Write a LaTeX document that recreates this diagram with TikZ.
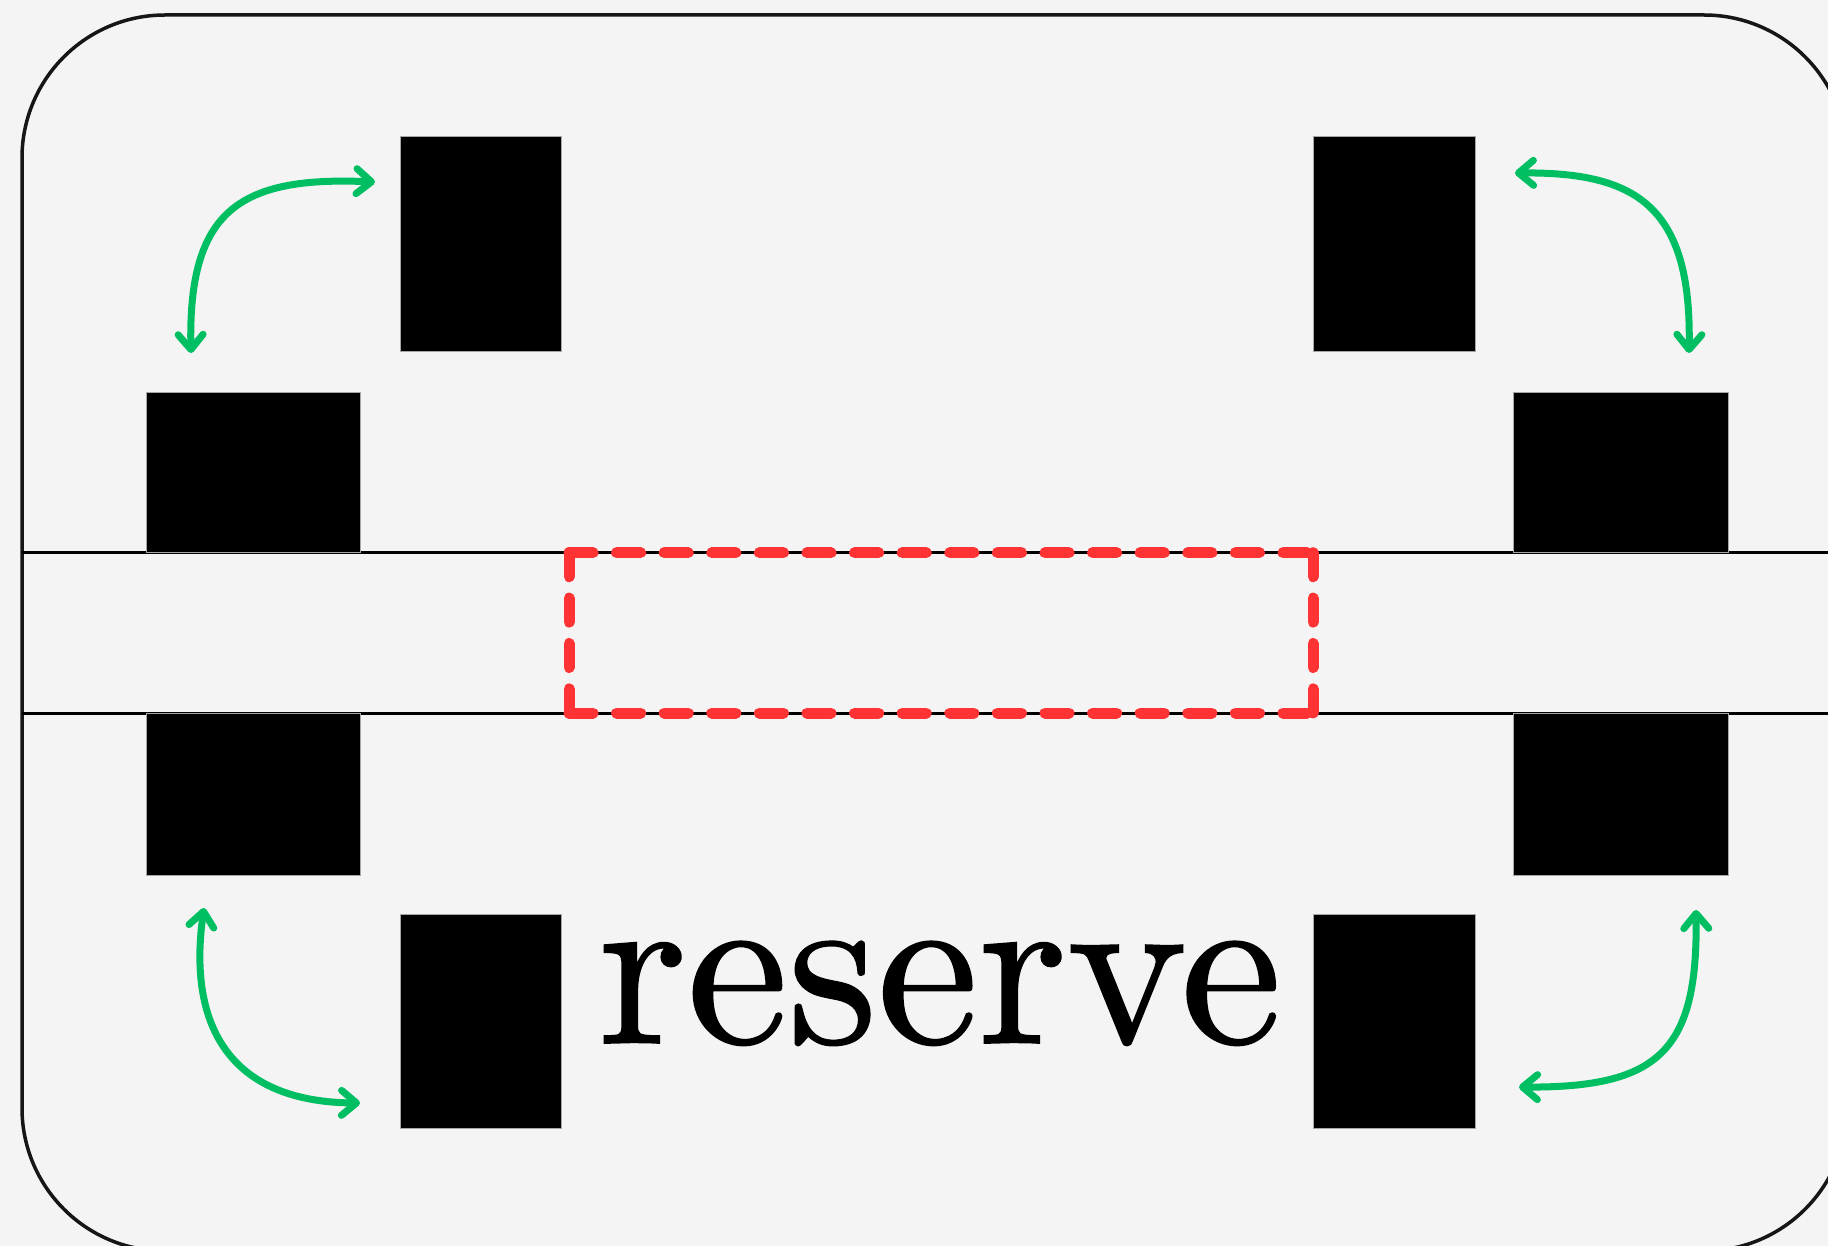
\documentclass[tikz,border=0pt]{standalone}
\usepackage{fontspec}
\newfontfamily\lblfont{lmroman10-regular.otf}[FakeBold=0.8]
\usetikzlibrary{arrows.meta}
\definecolor{bg}{HTML}{F4F4F4}
\definecolor{grn}{HTML}{00BF63}
\definecolor{redd}{HTML}{FF3333}
\definecolor{edge}{HTML}{161616}
\begin{document}
\begin{tikzpicture}[x=1pt,y=-1pt,
  blk/.style={draw=gray!70, line width=1pt, fill=black, inner sep=0pt, outer sep=0pt},
  rail/.style={draw=black, line width=3pt},
  outer/.style={draw=edge, line width=3.5pt, rounded corners=143pt},
  hdash/.style={draw=redd, line width=11pt, line cap=round, dash pattern=on 24pt off 23.6pt},
  vdash/.style={draw=redd, line width=11pt, line cap=round, dash pattern=on 24pt off 21.4pt},
  swing/.style={draw=grn, line width=7pt, line cap=round,
    {Straight Barb[round,length=15pt,width=25pt]}-{Straight Barb[round,length=15pt,width=25pt]}}
]
\useasboundingbox (0,0) rectangle (1828,1246);
\fill[bg] (0,0) rectangle (1828,1246);
\clip (0,0) rectangle (1828,1246);
% outer frame
\draw[outer] (22,15) rectangle (1847,1251);
% rails
\coordinate (r1a) at (22,552.7);  \coordinate (r1b) at (1840,552.7);
\coordinate (r2a) at (22,713);    \coordinate (r2b) at (1840,713);
\draw[rail] (r1a) -- (r1b);
\draw[rail] (r2a) -- (r2b);
% boxes
\node[blk, minimum width=161pt, minimum height=215pt] (tl1) at (480.5,244.5) {};
\node[blk, minimum width=214pt, minimum height=160.7pt] (tl2) at (253,472.35) {};
\node[blk, minimum width=214pt, minimum height=162pt] (bl2) at (253,794) {};
\node[blk, minimum width=161pt, minimum height=214pt] (bl1) at (480.5,1021) {};
\node[blk, minimum width=162pt, minimum height=215pt] (tr1) at (1394,244.5) {};
\node[blk, minimum width=215pt, minimum height=160.7pt] (tr2) at (1620.5,472.35) {};
\node[blk, minimum width=215pt, minimum height=162pt] (br2) at (1620.5,794) {};
\node[blk, minimum width=162pt, minimum height=214pt] (br1) at (1394,1021) {};
% reserved slot (dashed)
\coordinate (s1) at (569,552.7);
\coordinate (s2) at (1313,552.7);
\coordinate (s3) at (1313,713);
\coordinate (s4) at (569,713);
\draw[hdash] (s1) -- (s2);
\draw[hdash] (s4) -- (s3);
\draw[vdash] (s1) -- (s4);
\draw[vdash] (s2) -- (s3);
% label
\node[anchor=base west, inner sep=0pt] (lbl) at (598,1043) {\scalebox{22.7}{\lblfont\fontsize{10}{12}\selectfont reserve}};
% green swing arrows
\coordinate (a1s) at (191,353);   \coordinate (a1e) at (375,182);
\coordinate (a2s) at (1515,173);  \coordinate (a2e) at (1689,353);
\coordinate (a3s) at (204,908);   \coordinate (a3e) at (360,1103);
\coordinate (a4s) at (1696,910);  \coordinate (a4e) at (1519,1087);
\draw[swing] (a1s) .. controls (188,210) and (240,176) .. (a1e);
\draw[swing] (a2s) .. controls (1635,172) and (1692,205) .. (a2e);
\draw[swing] (a3s) .. controls (188,1020) and (225,1102) .. (a3e);
\draw[swing] (a4s) .. controls (1698,1050) and (1660,1088) .. (a4e);
\end{tikzpicture}
\end{document}
